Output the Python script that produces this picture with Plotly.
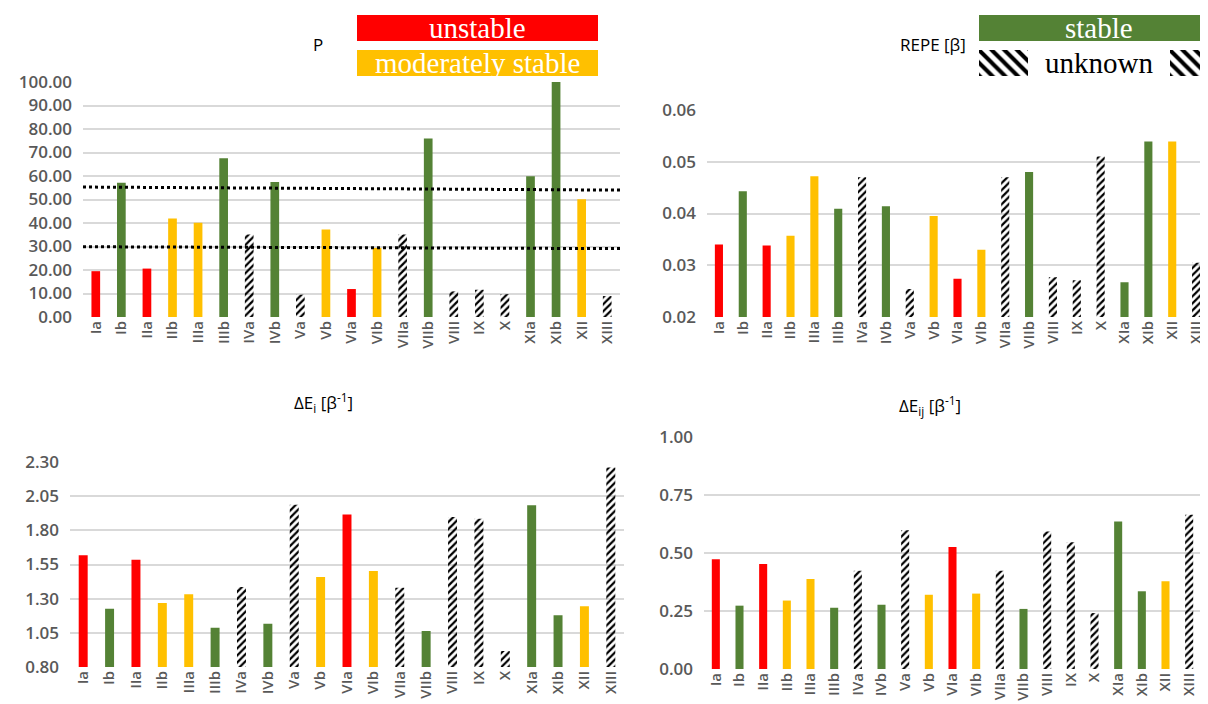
import plotly.graph_objects as go

categories = ["Ia", "Ib", "IIa", "IIb", "IIIa", "IIIb", "IVa", "IVb", "Va", "Vb", "VIa",
              "VIb", "VIIa", "VIIb", "VIII", "IX", "X", "XIa", "XIb", "XII", "XIII"]
status = ["unstable", "stable", "unstable", "moderate", "moderate", "stable", "unknown",
          "stable", "unknown", "moderate", "unstable", "moderate", "unknown", "stable",
          "unknown", "unknown", "unknown", "stable", "stable", "moderate", "unknown"]

p_values = [19.5, 57.1, 20.6, 41.9, 40.1, 67.6, 35.1, 57.5, 9.5, 37.2, 11.9,
            29.4, 35.1, 76.0, 10.9, 11.6, 9.7, 59.9, 100.0, 50.1, 8.9]
repe_values = [0.0340, 0.0443, 0.0338, 0.0357, 0.0472, 0.0409, 0.0470, 0.0414, 0.0254, 0.0395, 0.0274,
               0.0330, 0.0470, 0.0480, 0.0277, 0.0271, 0.0510, 0.0267, 0.0539, 0.0539, 0.0305]
dEi_values = [1.617, 1.227, 1.585, 1.268, 1.332, 1.088, 1.385, 1.117, 1.988, 1.459, 1.915,
              1.502, 1.380, 1.063, 1.898, 1.885, 0.917, 1.983, 1.178, 1.244, 2.259]
dEij_values = [0.473, 0.273, 0.453, 0.295, 0.388, 0.264, 0.424, 0.277, 0.598, 0.320, 0.526,
               0.325, 0.424, 0.259, 0.593, 0.546, 0.241, 0.636, 0.335, 0.378, 0.665]

threshold_high = [55.3, 54.0]
threshold_low = [29.9, 29.1]

status_colors = {"unstable": "#FF0000", "moderate": "#FFC000", "stable": "#548235", "unknown": "#000000"}
bar_colors = [status_colors[s] for s in status]
bar_patterns = ["/" if s == "unknown" else "" for s in status]

# page has an 8px body margin: figure occupies window pixels 8..1208 x 8..704
OFF = 8
W, H = 1208 - OFF, 704 - OFF
def px(x):
    return (x - OFF) / W
def py(y):
    return 1 - (y - OFF) / H

fig = go.Figure()

def add_panel(values, n):
    fig.add_trace(go.Bar(
        x=categories, y=values,
        xaxis="x" if n == 1 else f"x{n}", yaxis="y" if n == 1 else f"y{n}",
        width=0.34,
        marker=dict(color=bar_colors, line=dict(width=0),
                    pattern=dict(shape=bar_patterns, fillmode="replace", size=5, solidity=0.45)),
        showlegend=False, hoverinfo="skip"))

add_panel(p_values, 1)
add_panel(repe_values, 2)
add_panel(dEi_values, 3)
add_panel(dEij_values, 4)

# hatched legend swatches
fig.add_trace(go.Bar(x=[1003.5, 1189], y=[1, 1], width=[49, 38], xaxis="x5", yaxis="y5",
                     marker=dict(color="#000000", line=dict(width=0),
                                 pattern=dict(shape="\\", fillmode="replace", size=9, solidity=0.45)),
                     showlegend=False, hoverinfo="skip"))

tickfont = dict(family="Open Sans", size=17, color="#595959", weight=600)
xtickfont = dict(family="Open Sans", size=15, color="#595959", weight=600)
grid = "#D9D9D9"

def xax(x0, x1, anchor):
    return dict(domain=[px(x0), min(px(x1), 1)], anchor=anchor, type="category", tickangle=-90,
                showgrid=False, showline=False, ticks="", tickfont=xtickfont, fixedrange=True)

def yax(y_bottom, y_top, anchor, rng, dtick):
    return dict(domain=[py(y_bottom), py(y_top)], anchor=anchor, range=rng, dtick=dtick, tick0=rng[0],
                tickformat=".2f", showgrid=True, gridcolor=grid, gridwidth=1.5, zeroline=False,
                showline=False, ticks="", tickfont=tickfont, ticklabelstandoff=10, fixedrange=True)

fig.update_layout(
    width=W, height=H, margin=dict(l=0, r=0, t=0, b=0),
    template="none", paper_bgcolor="white", plot_bgcolor="rgba(0,0,0,0)",
    barmode="overlay",
    xaxis=xax(83, 620, "y"),
    yaxis=yax(317, 82, "x", [0, 100], 10),
    xaxis2=xax(707, 1208, "y2"),
    yaxis2=yax(317, 110, "x2", [0.02, 0.06], 0.01),
    xaxis3=xax(70, 624, "y3"),
    yaxis3=yax(667, 462, "x3", [0.8, 2.3], 0.25),
    xaxis4=xax(704, 1201, "y4"),
    yaxis4=yax(669, 437, "x4", [0, 1.0], 0.25),
    xaxis5=dict(domain=[px(979), 1], anchor="y5", range=[979, 1208], visible=False, fixedrange=True),
    yaxis5=dict(domain=[py(76), py(50)], anchor="x5", range=[0, 1], visible=False, fixedrange=True),
)

# dotted threshold lines on P panel
for t in (threshold_high, threshold_low):
    fig.add_shape(type="line", xref="x domain", yref="y", x0=0, x1=1, y0=t[0], y1=t[1],
                  line=dict(color="black", width=3, dash="dot"))

# legend boxes
def rect(x0, y0, x1, y1, color):
    fig.add_shape(type="rect", xref="paper", yref="paper", x0=px(x0), x1=px(x1), y0=py(y1), y1=py(y0),
                  fillcolor=color, line=dict(width=0), layer="above")

rect(357, 15, 598, 41, "#FF0000")
rect(357, 50, 598, 76, "#FFC000")
rect(979, 15, 1208, 41, "#548235")

serif = "Liberation Serif"
def ann(text, x, y, size, color, family, xanchor="center"):
    fig.add_annotation(text=text, x=px(x), y=py(y), xref="paper", yref="paper", showarrow=False,
                       xanchor=xanchor, yanchor="middle", font=dict(family=family, size=size, color=color))

ann("unstable", 477, 28, 29, "white", serif)
ann("moderately stable", 477, 63, 29, "white", serif)
ann("stable", 1099, 28, 29, "white", serif)
ann("unknown", 1099, 63, 29, "black", serif)

ann("P", 318, 45, 17, "black", "Open Sans")
ann("REPE [β]", 968, 45, 17, "black", "Open Sans", xanchor="right")
ann("ΔE<sub>i</sub> [β<sup>-1</sup>]", 323, 402, 17, "black", "Open Sans")
ann("ΔE<sub>ij</sub> [β<sup>-1</sup>]", 930, 405, 17, "black", "Open Sans")

fig.write_html("out.html")
